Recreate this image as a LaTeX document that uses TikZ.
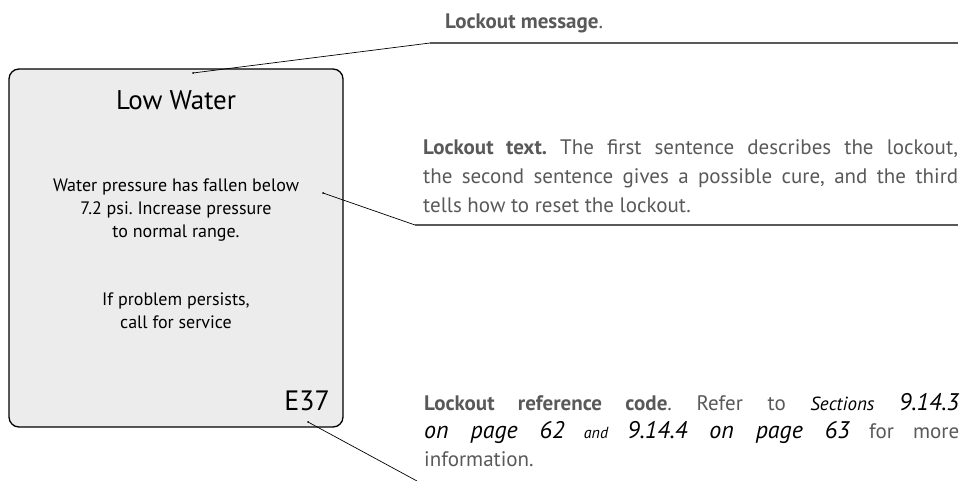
\documentclass[tikz,border=0pt]{standalone}
\usepackage{fontspec}
\setmainfont{PT Sans}
\newfontfamily\screenfont{PT Sans}
\usetikzlibrary{calc}
\frenchspacing
\definecolor{NoteClr}{rgb}{0.35,0.35,0.35}
\definecolor{ScreenClr}{rgb}{0.925,0.925,0.925}
\newcommand\refsec[1]{{\color{black}\itshape\fontsize{24}{28}\selectfont #1}}
\newcommand\refsmall[2]{{\color{black}\itshape\fontsize{#1}{28}\selectfont #2}}

\begin{document}
\begin{tikzpicture}[x=1pt,y=-1pt,
  leader/.style={line width=0.7pt,color=black},
  rulebar/.style={line width=1.2pt,color=NoteClr},
  note/.style={anchor=base west,inner sep=0pt,text width=535pt,align=justify,
    color=NoteClr,font=\fontsize{21}{29}\selectfont},
  screentext/.style={inner sep=0pt,align=center,anchor=base,
    font=\screenfont\fontsize{18}{23}\selectfont}]
\useasboundingbox (0,0) rectangle (965,481);

% the display
\coordinate (scrTL) at (9,69);
\coordinate (scrBR) at (343,427);
\draw[line width=1.3pt,rounded corners=10pt,fill=ScreenClr] (scrTL) rectangle (scrBR);

\node[inner sep=0pt,anchor=base,font=\screenfont\fontsize{27}{27}\selectfont] (title) at (176,110) {Low Water};
% base of a multi-line node = its last line
\node[screentext] (cause) at (176,237)
  {Water pressure has fallen below\\7.2 psi. Increase pressure\\to normal range.};
\node[screentext] (cure) at (176,328)
  {If problem persists,\\call for service};
\node[inner sep=0pt,anchor=base east,font=\screenfont\fontsize{28}{28}\selectfont] (code) at (330,410) {E37};

% leader points
\coordinate (msgTip) at (193,73);
\coordinate (msgKnee) at (430,43);
\coordinate (msgEnd) at (958,43);
\coordinate (txtTip) at (323,193);
\coordinate (txtKnee) at (415,225);
\coordinate (txtEnd) at (958,225);
\coordinate (codeTip) at (308,422);
\coordinate (codeEnd) at (417,481);

% notes
\node[inner sep=0pt,anchor=base west,color=NoteClr,font=\fontsize{21}{28}\selectfont] (msg) at (445,29)
  {\textbf{Lockout message}.};
\node[note] (txt) at (423,154)
  {\textbf{Lockout text.} The first sentence describes the lockout,\linebreak
   the second sentence gives a possible cure, and the third\linebreak
   tells how to reset the lockout.};
\node[note,font=\fontsize{21}{28}\selectfont] (ref) at (424,410)
  {\textbf{Lockout reference code}. Refer to \refsmall{19}{Sections} \refsec{9.14.3}\linebreak
   \refsec{on page 62} \refsmall{16}{and} \refsec{9.14.4 on page 63} for more\linebreak
   information.};

% leaders
\draw[leader] (msgTip) -- (msgKnee);
\draw[rulebar] (msgKnee) -- (msgEnd);
\draw[leader] (txtTip) -- (txtKnee);
\draw[rulebar] (txtKnee) -- (txtEnd);
\draw[leader] (codeTip) -- (codeEnd);
\foreach \p in {msgTip,txtTip,codeTip}
  \fill (\p) circle (1pt);

\end{tikzpicture}
\end{document}
